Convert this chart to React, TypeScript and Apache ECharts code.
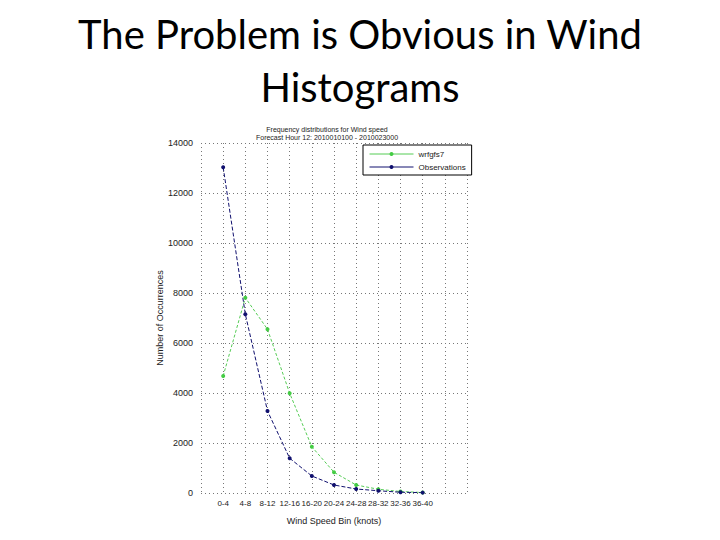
import React, { useEffect, useRef } from "react";
import * as echarts from "echarts";

const categories = ["0-4", "4-8", "8-12", "12-16", "16-20", "20-24", "24-28", "28-32", "32-36", "36-40"];
const modelValues = [4680, 7810, 6550, 3990, 1850, 830, 320, 150, 60, 20];
const obsValues = [13030, 7150, 3280, 1390, 680, 320, 160, 90, 30, 15];
const yTicks = [0, 2000, 4000, 6000, 8000, 10000, 12000, 14000];
const seriesNames = ["wrfgfs7", "Observations"];

export default function App() {
  const ref = useRef<HTMLDivElement>(null);
  useEffect(() => {
    if (!ref.current) return;
    const chart = echarts.init(ref.current, null, { renderer: "svg" });
    const font = "Liberation Sans";
    const toPts = (vals: number[]) => vals.map((v, i) => [i + 1, v]);
    chart.setOption({
      animation: false,
      backgroundColor: "#ffffff",
      textStyle: { fontFamily: font },
      title: [
        {
          text: "The Problem is Obvious in Wind\nHistograms",
          left: "center",
          top: 2,
          textStyle: { fontFamily: "Lato", fontSize: 40, fontWeight: "normal", color: "#000", lineHeight: 53 },
        },
        {
          text: "Frequency distributions for Wind speed\nForecast Hour 12: 2010010100 - 2010023000",
          left: 322,
          textAlign: "center",
          top: 120,
          textStyle: { fontFamily: font, fontSize: 7, fontWeight: "normal", color: "#222", lineHeight: 8 },
        },
      ],
      legend: {
        orient: "vertical",
        left: 363,
        top: 145,
        backgroundColor: "#fff",
        borderColor: "#000",
        borderWidth: 1,
        borderRadius: 0,
        padding: [5, 6, 4, 6],
        itemGap: 5,
        itemWidth: 44,
        itemHeight: 5,
        textStyle: { fontFamily: font, fontSize: 8, color: "#222" },
        data: [
          { name: seriesNames[0], lineStyle: { type: "solid", width: 1 } },
          { name: seriesNames[1], lineStyle: { type: "solid", width: 1 } },
        ],
      },
      grid: { left: 201, right: 253, top: 143, bottom: 47, containLabel: false },
      xAxis: {
        type: "value",
        min: 0,
        max: 12,
        interval: 1,
        name: "Wind Speed Bin (knots)",
        nameLocation: "middle",
        nameGap: 23,
        nameTextStyle: { fontFamily: font, fontSize: 9, color: "#222" },
        axisLine: { show: false },
        axisTick: { show: false },
        axisLabel: {
          fontSize: 8,
          color: "#222",
          margin: 6,
          showMinLabel: false,
          showMaxLabel: false,
          formatter: (v: number) => (v >= 1 && v <= categories.length ? categories[v - 1] : ""),
        },
        splitLine: {
          show: true,
          lineStyle: { type: [1, 3], color: "#777", width: 1 },
        },
      },
      yAxis: {
        type: "value",
        min: yTicks[0],
        max: yTicks[yTicks.length - 1],
        interval: 2000,
        name: "Number of Occurrences",
        nameLocation: "middle",
        nameGap: 30,
        nameTextStyle: { fontFamily: font, fontSize: 9, color: "#222" },
        axisLine: { show: false },
        axisTick: { show: false },
        axisLabel: { fontSize: 9, color: "#222", margin: 8, formatter: (v: number) => String(v) },
        splitLine: {
          show: true,
          lineStyle: { type: [1, 3], color: "#777", width: 1 },
        },
      },
      series: [
        {
          name: seriesNames[0],
          type: "line",
          data: toPts(modelValues),
          symbol: "circle",
          symbolSize: 4,
          itemStyle: { color: "#44cc44" },
          lineStyle: { color: "#55cc55", width: 1, type: [3, 2] },
        },
        {
          name: seriesNames[1],
          type: "line",
          data: toPts(obsValues),
          symbol: "circle",
          symbolSize: 4,
          itemStyle: { color: "#10106e" },
          lineStyle: { color: "#10106e", width: 1, type: [4, 2] },
        },
      ],
    });
    return () => chart.dispose();
  }, []);
  return (
    <div
      ref={ref}
      style={{ position: "fixed", left: 0, top: 0, width: 720, height: 540, background: "#fff" }}
    />
  );
}
